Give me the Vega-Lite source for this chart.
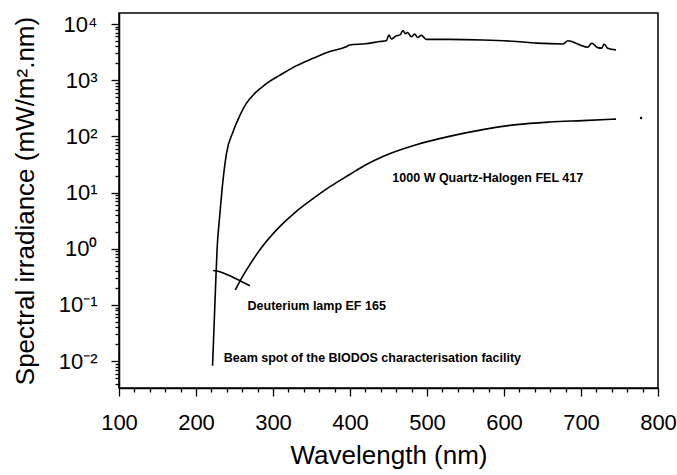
{
  "$schema": "https://vega.github.io/schema/vega-lite/v6.json",
  "width": 539,
  "height": 375,
  "autosize": "none",
  "padding": {"left": 119, "top": 13, "right": 19, "bottom": 87},
  "background": "white",
  "config": {
    "view": {"stroke": "black", "strokeWidth": 1.5},
    "axis": {
      "domainColor": "black", "domainWidth": 1.5, "tickColor": "black", "tickWidth": 1.3,
      "labelColor": "black", "titleColor": "black", "labelFont": "Liberation Sans",
      "titleFont": "Liberation Sans", "labelFontSize": 22, "titleFontSize": 26,
      "titleFontWeight": "normal", "grid": false
    }
  },
  "datasets": {
    "curves": [
      {"series": "beam", "wl": 221.5, "irr": 0.0083},
      {"series": "beam", "wl": 224.5, "irr": 0.1},
      {"series": "beam", "wl": 227.4, "irr": 1},
      {"series": "beam", "wl": 230.5, "irr": 3.5},
      {"series": "beam", "wl": 234, "irr": 12},
      {"series": "beam", "wl": 239.6, "irr": 50},
      {"series": "beam", "wl": 248, "irr": 120},
      {"series": "beam", "wl": 256, "irr": 220},
      {"series": "beam", "wl": 265.6, "irr": 390},
      {"series": "beam", "wl": 275, "irr": 560},
      {"series": "beam", "wl": 285, "irr": 740},
      {"series": "beam", "wl": 296, "irr": 960},
      {"series": "beam", "wl": 309, "irr": 1230},
      {"series": "beam", "wl": 330, "irr": 1800},
      {"series": "beam", "wl": 352, "irr": 2450},
      {"series": "beam", "wl": 373.7, "irr": 3230},
      {"series": "beam", "wl": 395, "irr": 3950},
      {"series": "beam", "wl": 399.6, "irr": 4240},
      {"series": "beam", "wl": 420, "irr": 4450},
      {"series": "beam", "wl": 438.5, "irr": 4870},
      {"series": "beam", "wl": 447, "irr": 5030},
      {"series": "beam", "wl": 450.6, "irr": 6350},
      {"series": "beam", "wl": 453.7, "irr": 5400},
      {"series": "beam", "wl": 460, "irr": 6150},
      {"series": "beam", "wl": 465, "irr": 6400},
      {"series": "beam", "wl": 468.7, "irr": 7640},
      {"series": "beam", "wl": 472, "irr": 6750},
      {"series": "beam", "wl": 475, "irr": 7080},
      {"series": "beam", "wl": 479.6, "irr": 5950},
      {"series": "beam", "wl": 484, "irr": 6600},
      {"series": "beam", "wl": 488, "irr": 5750},
      {"series": "beam", "wl": 492.6, "irr": 6300},
      {"series": "beam", "wl": 499, "irr": 5330},
      {"series": "beam", "wl": 529, "irr": 5330},
      {"series": "beam", "wl": 572.7, "irr": 5200},
      {"series": "beam", "wl": 616, "irr": 4880},
      {"series": "beam", "wl": 642, "irr": 4570},
      {"series": "beam", "wl": 676.6, "irr": 4420},
      {"series": "beam", "wl": 683, "irr": 5030},
      {"series": "beam", "wl": 698, "irr": 4270},
      {"series": "beam", "wl": 708.7, "irr": 3850},
      {"series": "beam", "wl": 714, "irr": 4540},
      {"series": "beam", "wl": 721.7, "irr": 3800},
      {"series": "beam", "wl": 727, "irr": 3720},
      {"series": "beam", "wl": 730, "irr": 4420},
      {"series": "beam", "wl": 734.6, "irr": 3720},
      {"series": "beam", "wl": 745.5, "irr": 3470},
      {"series": "qh", "wl": 251, "irr": 0.185},
      {"series": "qh", "wl": 258, "irr": 0.28},
      {"series": "qh", "wl": 265.6, "irr": 0.42},
      {"series": "qh", "wl": 283, "irr": 0.96},
      {"series": "qh", "wl": 309, "irr": 2.5},
      {"series": "qh", "wl": 330, "irr": 4.6},
      {"series": "qh", "wl": 352, "irr": 7.8},
      {"series": "qh", "wl": 375, "irr": 13},
      {"series": "qh", "wl": 399.6, "irr": 21},
      {"series": "qh", "wl": 420, "irr": 31},
      {"series": "qh", "wl": 442.8, "irr": 44},
      {"series": "qh", "wl": 486, "irr": 71},
      {"series": "qh", "wl": 529, "irr": 100},
      {"series": "qh", "wl": 572.5, "irr": 132},
      {"series": "qh", "wl": 616, "irr": 162},
      {"series": "qh", "wl": 659, "irr": 180},
      {"series": "qh", "wl": 702, "irr": 191},
      {"series": "qh", "wl": 745.5, "irr": 203},
      {"series": "d2", "wl": 222.3, "irr": 0.41},
      {"series": "d2", "wl": 231, "irr": 0.39},
      {"series": "d2", "wl": 244, "irr": 0.33},
      {"series": "d2", "wl": 257, "irr": 0.27},
      {"series": "d2", "wl": 270, "irr": 0.22}
    ],
    "dots": [{"wl": 778, "irr": 212}],
    "notes": [
      {"wl": 455, "irr": 18.4, "text": "1000 W Quartz-Halogen FEL 417"},
      {"wl": 267, "irr": 0.096, "text": "Deuterium lamp EF 165"},
      {"wl": 236, "irr": 0.0112, "text": "Beam spot of the BIODOS characterisation facility"}
    ]
  },
  "resolve": {"axis": {"x": "independent", "y": "independent"}},
  "layer": [
    {
      "layer": [
        {
          "data": {"name": "curves"},
          "mark": {"type": "line", "color": "black", "strokeWidth": 1.6, "interpolate": "monotone"},
          "encoding": {
            "x": {"field": "wl", "type": "quantitative"},
            "y": {"field": "irr", "type": "quantitative"},
            "detail": {"field": "series"}
          }
        },
        {
          "data": {"name": "dots"},
          "mark": {"type": "point", "filled": true, "color": "black", "size": 6, "opacity": 1},
          "encoding": {
            "x": {"field": "wl", "type": "quantitative"},
            "y": {"field": "irr", "type": "quantitative"}
          }
        },
        {
          "data": {"name": "notes"},
          "mark": {"type": "text", "align": "left", "baseline": "middle", "font": "Liberation Sans", "fontWeight": "bold", "fontSize": 12.5, "color": "black"},
          "encoding": {
            "x": {"field": "wl", "type": "quantitative"},
            "y": {"field": "irr", "type": "quantitative"},
            "text": {"field": "text"}
          }
        }
      ],
      "encoding": {
        "x": {"field": "wl", "type": "quantitative", "scale": {"domain": [100, 800], "nice": false, "zero": false},
          "axis": {"title": "Wavelength (nm)", "values": [100, 200, 300, 400, 500, 600, 700, 800], "tickSize": 8, "labelPadding": 16, "titlePadding": 9, "labelFlush": false}},
        "y": {"field": "irr", "type": "quantitative", "scale": {"type": "log", "domain": [0.00333, 15700], "nice": false},
          "axis": {"title": "Spectral irradiance (mW/m\u00b2.nm)", "values": [0.01, 0.1, 1, 10, 100, 1000, 10000], "tickSize": 8, "labelPadding": 14, "titlePadding": 20,
            "labelExpr": "['10\u207b\u00b2','10\u207b\u00b9','10\u2070','10\u00b9','10\u00b2','10\u00b3','10\u2074'][round(log(datum.value)/LN10)+2]"}}
      }
    },
    {
      "data": {"name": "dots"},
      "mark": {"type": "point", "opacity": 0},
      "encoding": {
        "x": {"field": "wl", "type": "quantitative", "scale": {"domain": [100, 800], "nice": false, "zero": false},
          "axis": {"orient": "bottom", "title": null, "labels": false, "domain": false, "tickSize": 4,
            "values": [120,140,160,180,220,240,260,280,320,340,360,380,420,440,460,480,520,540,560,580,620,640,660,680,720,740,760,780]}},
        "y": {"field": "irr", "type": "quantitative", "scale": {"type": "log", "domain": [0.00333, 15700], "nice": false},
          "axis": {"orient": "left", "title": null, "labels": false, "domain": false, "tickSize": 4,
            "values": [0.004,0.005,0.006,0.007,0.008,0.009,0.02,0.03,0.04,0.05,0.06,0.07,0.08,0.09,0.2,0.3,0.4,0.5,0.6,0.7,0.8,0.9,2,3,4,5,6,7,8,9,20,30,40,50,60,70,80,90,200,300,400,500,600,700,800,900,2000,3000,4000,5000,6000,7000,8000,9000]}}
      }
    }
  ]
}
